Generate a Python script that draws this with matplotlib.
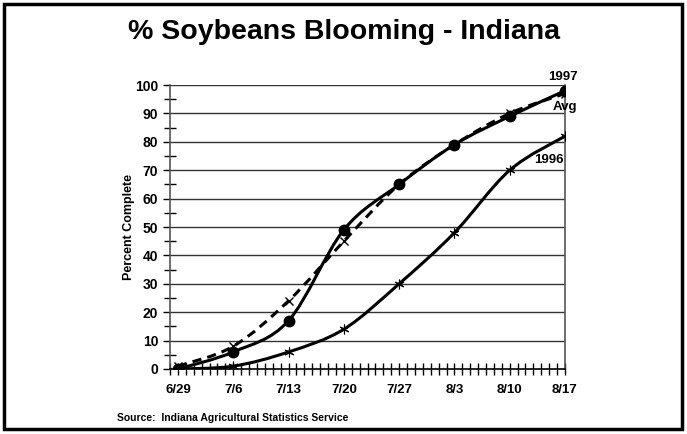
import numpy as np
import matplotlib.pyplot as plt
from matplotlib.path import Path
from matplotlib.patches import PathPatch, Rectangle

plt.rcParams['font.family'] = ['Liberation Sans', 'DejaVu Sans']
plt.rcParams['font.weight'] = 'bold'

# datos
fechas = ['6/29', '7/6', '7/13', '7/20', '7/27', '8/3', '8/10', '8/17']
dias = [0, 7, 14, 21, 28, 35, 42, 49]
y1997 = [0, 6, 17, 49, 65, 79, 89, 98]
yavg = [1, 8, 24, 45, 65, 79, 90, 97]
y1996 = [0, 1, 6, 14, 30, 48, 70, 82]


def curva_suave(ax, x, y, **kw):
    # curva tipo Excel (bezier a traves de los puntos)
    x = np.asarray(x, float)
    y = np.asarray(y, float)
    pts = np.column_stack([x, y])
    n = len(pts)
    verts = [pts[0]]
    codes = [Path.MOVETO]
    for i in range(n - 1):
        p0 = pts[i - 1] if i > 0 else pts[i]
        p1 = pts[i]
        p2 = pts[i + 1]
        p3 = pts[i + 2] if i + 2 < n else pts[i + 1]
        c1 = p1 + (p2 - p0) / 6.0
        c2 = p2 - (p3 - p1) / 6.0
        verts += [c1, c2, p2]
        codes += [Path.CURVE4] * 3
    ax.add_patch(PathPatch(Path(verts, codes), fill=False, **kw))


fig = plt.figure(figsize=(6.87, 4.34), dpi=100)
fig.patches.append(Rectangle((0.006, 0.012), 0.986, 0.978, transform=fig.transFigure,
                             fill=False, edgecolor='black', linewidth=2.5))

ax = fig.add_axes([0.2475, 0.1498, 0.5749, 0.6542])
ax.set_xlim(-1, 49)
ax.set_ylim(0, 100)

for v in range(10, 101, 10):
    ax.axhline(v, color='#333333', linewidth=1.0, zorder=1)

curva_suave(ax, dias, yavg, edgecolor='black', linewidth=2.2, linestyle=(0, (3, 2)), zorder=3)
curva_suave(ax, dias, y1997, edgecolor='black', linewidth=2.2, zorder=3)
curva_suave(ax, dias, y1996, edgecolor='black', linewidth=2.2, zorder=3)
ax.plot(dias, yavg, linestyle='none', marker='x', color='black', markersize=6, markeredgewidth=1, zorder=4)
ax.plot(dias, y1997, linestyle='none', marker='o', color='black', markersize=7.5, zorder=4)
ax.plot(dias, y1996, linestyle='none', marker=(6, 2, 0), color='black', markersize=7, markeredgewidth=0.8, zorder=4)

ax.set_xticks(dias)
ax.set_xticklabels(fechas, fontsize=9.5, fontweight='bold')
ax.set_xticks(np.arange(-1, 50), minor=True)
ax.set_yticks(range(0, 101, 10))
ax.set_yticklabels([str(v) for v in range(0, 101, 10)], fontsize=10, fontweight='bold')
ax.set_yticks(range(5, 100, 10), minor=True)
ax.tick_params(axis='x', which='both', direction='inout', length=8, width=1, pad=7)
ax.tick_params(axis='y', which='major', direction='out', length=5, width=1)
ax.tick_params(axis='y', which='minor', direction='inout', length=8, width=1)

for s in ['left', 'bottom', 'right']:
    ax.spines[s].set_color('#555555')
    ax.spines[s].set_linewidth(1.2)
ax.spines['bottom'].set_color('black')
ax.spines['top'].set_visible(False)

ax.set_ylabel('Percent Complete', fontsize=9, fontweight='bold', labelpad=0)

ax.text(48.7, 100.8, '1997', fontsize=9.5, fontweight='bold', ha='center', va='bottom', clip_on=False)
ax.text(49, 92.3, 'Avg', fontsize=9.5, fontweight='bold', ha='center', va='center', clip_on=False)
ax.text(47, 73.6, '1996', fontsize=9.5, fontweight='bold', ha='center', va='center')

fig.text(0.5, 0.926, '% Soybeans Blooming - Indiana', fontsize=20.5, fontweight='bold', ha='center', va='center')
fig.text(0.17, 0.037, 'Source:  Indiana Agricultural Statistics Service', fontsize=7.5, fontweight='bold', ha='left', va='center')

fig.savefig('out.png', dpi=100)
